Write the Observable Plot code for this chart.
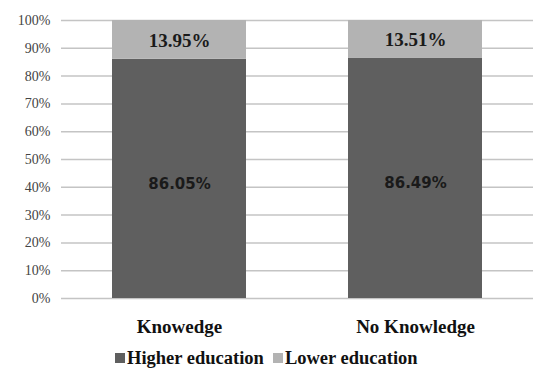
<!DOCTYPE html>
<html>
<head>
<meta charset="utf-8">
<script src="https://cdn.jsdelivr.net/npm/d3@7"></script>
<script src="https://cdn.jsdelivr.net/npm/@observablehq/plot@0.6"></script>
<style>
  html, body { margin: 0; padding: 0; background: #fff; overflow: hidden; }
  #chart { width: 534px; }
  .legend { display: flex; align-items: center; height: 36px; padding-left: 115px;
    font-family: "Liberation Serif", "DejaVu Serif", serif; font-weight: bold; font-size: 18.5px; color: #111; }
  .legend .sw { display: inline-block; width: 10px; height: 10px; margin-right: 2px; }
  .legend .item { display: flex; align-items: center; margin-right: 9px; }
</style>
</head>
<body>
<div id="chart"></div>
<script>
const categories = ["Knowedge", "No Knowledge"];
const groups = ["Higher education", "Lower education"];
const higher = [86.05, 86.49];
const lower = [13.95, 13.51];
const yTicks = [0, 10, 20, 30, 40, 50, 60, 70, 80, 90, 100];
const colors = ["#5f5f5f", "#b3b3b3"];

const rows = [];
categories.forEach((c, i) => {
  rows.push({cat: c, group: groups[0], value: higher[i]});
  rows.push({cat: c, group: groups[1], value: lower[i]});
});

const serif = "'Liberation Serif', 'DejaVu Serif', serif";

const plot = Plot.plot({
  width: 534,
  height: 340,
  marginLeft: 61,
  marginRight: 1,
  marginTop: 20,
  marginBottom: 42,
  x: {domain: categories, paddingInner: 0.432, paddingOuter: 0.216, label: null},
  y: {domain: [0, 100], label: null},
  color: {domain: groups, range: colors},
  marks: [
    Plot.ruleY(yTicks, {stroke: "#c4c4c4", strokeWidth: 1.5}),
    Plot.barY(rows, {x: "cat", y: "value", fill: "group", order: groups}),
    Plot.text(rows, Plot.stackY({
      x: "cat", y: "value", z: "group", order: groups,
      text: d => d.group === groups[0] ? d.value.toFixed(2) + "%" : "",
      fill: "#1a1a1a", fontSize: 15, fontWeight: "bold",
      fontFamily: "DejaVu Sans", dy: 5
    })),
    Plot.text(rows, Plot.stackY({
      x: "cat", y: "value", z: "group", order: groups,
      text: d => d.group === groups[1] ? d.value.toFixed(2) + "%" : "",
      fill: "#1a1a1a", fontSize: 19, fontWeight: "bold",
      fontFamily: serif, dy: 1
    })),
    Plot.axisY({ticks: yTicks, tickFormat: d => d + "%", tickSize: 0, tickPadding: 11, label: null,
      fontFamily: serif, fontSize: 14, fill: "#444"}),
    Plot.axisX({tickSize: 0, tickPadding: 21, label: null,
      fontFamily: serif, fontSize: 19, fontWeight: "bold", fill: "#111"})
  ]
});

document.getElementById("chart").appendChild(plot);

const legend = document.createElement("div");
legend.className = "legend";
groups.forEach((g, i) => {
  const item = document.createElement("span");
  item.className = "item";
  const sw = document.createElement("span");
  sw.className = "sw";
  sw.style.background = colors[i];
  item.appendChild(sw);
  item.appendChild(document.createTextNode(g));
  legend.appendChild(item);
});
document.getElementById("chart").appendChild(legend);
</script>
</body>
</html>
